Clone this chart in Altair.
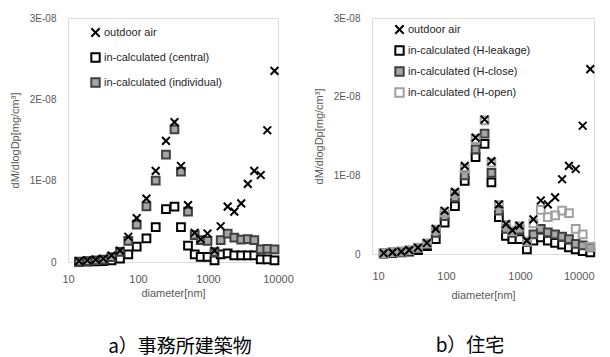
import altair as alt
import pandas as pd

# particle diameter bins [nm]
diam = [14.4, 18.9, 24.9, 31.9, 41.8, 55.3, 72.7, 95.8, 132, 179, 251, 332, 411, 518,
        646, 787, 984, 1239, 1517, 1910, 2377, 2981, 3704, 4585, 5663, 7034, 8913]

# values in units of 1E-08 mg/cm3
# a) office building
outdoor_a = [0.01, 0.02, 0.03, 0.04, 0.08, 0.14, 0.31, 0.54, 0.78, 1.12, 1.49, 1.72, 1.18, 0.70,
             0.36, 0.28, 0.35, 0.14, 0.44, 0.68, 0.62, 0.72, 0.96, 1.12, 1.07, 1.62, 2.35]
central = [0.003, 0.005, 0.008, 0.01, 0.02, 0.04, 0.095, 0.19, 0.29, 0.43, 0.65, 0.68, 0.43, 0.20,
           0.095, 0.064, 0.064, 0.02, 0.095, 0.107, 0.08, 0.08, 0.08, 0.08, 0.033, 0.033, 0.02]
individual = [0.005, 0.01, 0.02, 0.03, 0.06, 0.125, 0.26, 0.46, 0.685, 1.0, 1.32, 1.63, 1.11, 0.62,
              0.33, 0.27, 0.26, 0.12, 0.27, 0.35, 0.30, 0.275, 0.28, 0.27, 0.155, 0.16, 0.155]

# b) house
outdoor_b = [0.01, 0.02, 0.03, 0.05, 0.08, 0.14, 0.32, 0.55, 0.79, 1.12, 1.48, 1.71, 1.18, 0.63,
             0.38, 0.30, 0.36, 0.17, 0.44, 0.68, 0.63, 0.72, 0.95, 1.12, 1.08, 1.63, 2.35]
h_leak = [0.005, 0.01, 0.02, 0.03, 0.05, 0.10, 0.19, 0.40, 0.61, 0.93, 1.23, 1.40, 0.91, 0.47,
          0.23, 0.19, 0.19, 0.06, 0.17, 0.21, 0.17, 0.14, 0.12, 0.085, 0.06, 0.035, 0.02]
h_close = [0.01, 0.02, 0.03, 0.04, 0.075, 0.125, 0.27, 0.48, 0.72, 1.0, 1.33, 1.53, 1.03, 0.55,
           0.32, 0.27, 0.31, 0.15, 0.25, 0.32, 0.275, 0.25, 0.22, 0.19, 0.13, 0.11, 0.085]
h_open = [0.01, 0.02, 0.03, 0.05, 0.08, 0.135, 0.31, 0.53, 0.77, 1.09, 1.46, 1.70, 1.16, 0.62,
          0.37, 0.29, 0.35, 0.16, 0.39, 0.56, 0.47, 0.49, 0.55, 0.52, 0.32, 0.25, 0.09]

names_a = ["outdoor air", "in-calculated (central)", "in-calculated (individual)"]
names_b = ["outdoor air", "in-calculated (H-leakage)", "in-calculated (H-close)", "in-calculated (H-open)"]

X_PATH = "M-1,-1L1,1M-1,1L1,-1"
FONT = "Liberation Sans"
TXT = "#595959"


def long_df(series_in_draw_order):
    rows = []
    for name, vals in series_in_draw_order:
        for d, v in zip(diam, vals):
            rows.append({"d": d, "v": v, "s": name})
    return pd.DataFrame(rows)


def points(df, names, shapes, fills, strokes, lpad_x, tpad_x, flush, legend_y, row_pad):
    leg = alt.Legend(title=None, orient="none", legendX=22, legendY=legend_y,
                     labelFont=FONT, labelFontSize=11, labelColor="#262626",
                     symbolSize=70, symbolStrokeWidth=2, symbolOpacity=1,
                     rowPadding=row_pad, labelOffset=3, padding=0)
    return alt.Chart(df).mark_point(
        size=60, strokeWidth=2, opacity=1, filled=False
    ).encode(
        x=alt.X("d:Q", scale=alt.Scale(type="log", domain=[10, 10000]),
                axis=alt.Axis(title="diameter[nm]", values=[10, 100, 1000, 10000], format="d",
                              grid=False, ticks=False, domain=False, labelPadding=lpad_x,
                              titlePadding=tpad_x, labelFont=FONT, labelFontSize=11,
                              labelColor=TXT, titleFont=FONT, titleFontSize=11,
                              titleFontWeight="normal", titleColor=TXT, labelFlush=flush)),
        y=alt.Y("v:Q", scale=alt.Scale(domain=[0, 3], nice=False),
                axis=alt.Axis(title="dM/dlogDp[mg/cm³]", values=[0, 1, 2, 3],
                              labelExpr="datum.value == 0 ? '0' : datum.value + 'E-08'",
                              grid=False, ticks=False, domain=False, labelPadding=12,
                              titlePadding=9, labelFont=FONT, labelFontSize=10, labelColor=TXT,
                              titleFont=FONT, titleFontSize=11, titleFontWeight="normal",
                              titleColor=TXT)),
        shape=alt.Shape("s:N", scale=alt.Scale(domain=names, range=shapes), legend=leg),
        fill=alt.Fill("s:N", scale=alt.Scale(domain=names, range=fills), legend=leg),
        stroke=alt.Stroke("s:N", scale=alt.Scale(domain=names, range=strokes), legend=leg),
    )


def caption(text, dx, off):
    return alt.TitleParams(text, orient="bottom", font="Noto Sans CJK JP", fontSize=19,
                           fontWeight="normal", color="#000000", dx=dx, offset=off)


df_a = long_df([(names_a[1], central), (names_a[2], individual), (names_a[0], outdoor_a)])
df_b = long_df([(names_b[1], h_leak), (names_b[2], h_close), (names_b[3], h_open), (names_b[0], outdoor_b)])

left = points(df_a, names_a,
              [X_PATH, "square", "square"],
              ["transparent", "#ffffff", "#a6a6a6"],
              ["#000000", "#000000", "#404040"],
              11, 3, False, 9, 8).properties(
    width=210, height=244, title=caption("a）事務所建築物", 7, 40))

# invisible spacer so the right plot sits a little lower than the left one
spacer = alt.Chart(pd.DataFrame({"k": [0]})).mark_rule(opacity=0).encode(
    x=alt.value(0), x2=alt.value(1), y=alt.value(-9))

right = alt.layer(
    points(df_b, names_b,
           [X_PATH, "square", "square", "square"],
           ["transparent", "#ffffff", "#a6a6a6", "transparent"],
           ["#000000", "#000000", "#404040", "#a0a0a0"],
           16, 8, True, 6, 4),
    spacer,
).properties(width=222, height=236, title=caption("b）住宅", -13, 37))

chart = alt.hconcat(left, right, spacing=18).resolve_scale(
    x="independent", y="independent", shape="independent", fill="independent", stroke="independent"
).resolve_legend(
    shape="independent", fill="independent", stroke="independent"
).properties(
    padding={"left": 0, "top": 0, "right": 0, "bottom": 0}
).configure_view(stroke="#000000", strokeWidth=2).configure(background="#ffffff")

chart.save("out.html", embed_options={"renderer": "svg", "actions": False})
